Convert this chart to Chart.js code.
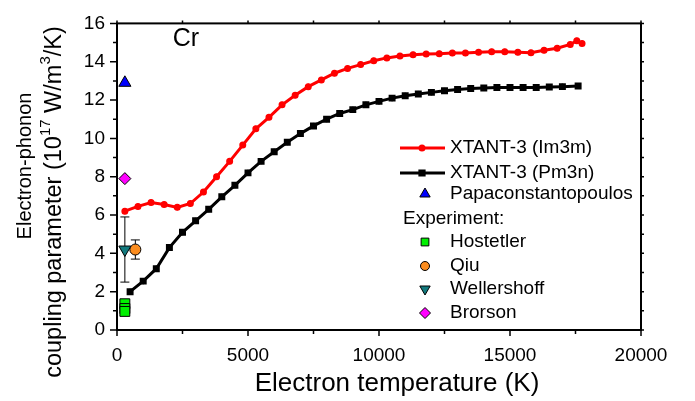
<!DOCTYPE html>
<html>
<head>
<meta charset="utf-8">
<script src="https://cdn.jsdelivr.net/npm/chart.js@4.4.0/dist/chart.umd.min.js"></script>
<style>
  html, body { margin: 0; padding: 0; background: #fff; }
  #wrap { width: 695px; height: 401px; }
</style>
</head>
<body>
<div id="wrap"><canvas id="chart" width="695" height="401"></canvas></div>
<script>
const FONT = "'Liberation Sans', Arial, sans-serif";

// XTANT-3, bcc Cr (Im3m)
const im3mTe = [300, 800, 1300, 1800, 2300, 2800, 3300, 3800, 4300, 4800, 5300, 5800, 6300, 6800, 7300, 7800, 8300, 8800, 9300, 9800,
  10300, 10800, 11300, 11800, 12300, 12800, 13300, 13800, 14300, 14800, 15300, 15800, 16300, 16800, 17300, 17550, 17750];
const im3mG = [6.2, 6.45, 6.65, 6.55, 6.4, 6.6, 7.2, 8.0, 8.8, 9.65, 10.5, 11.1, 11.75, 12.25, 12.7, 13.05, 13.4, 13.65, 13.85, 14.05,
  14.2, 14.3, 14.37, 14.4, 14.42, 14.45, 14.45, 14.5, 14.52, 14.52, 14.5, 14.47, 14.6, 14.7, 14.9, 15.1, 14.95];

// XTANT-3, A15 Cr (Pm3n)
const pm3nTe = [500, 1000, 1500, 2000, 2500, 3000, 3500, 4000, 4500, 5000, 5500, 6000, 6500, 7000, 7500, 8000, 8500, 9000, 9500, 10000,
  10500, 11000, 11500, 12000, 12500, 13000, 13500, 14000, 14500, 15000, 15500, 16000, 16500, 17000, 17600];
const pm3nG = [2.0, 2.55, 3.2, 4.3, 5.1, 5.7, 6.3, 6.95, 7.55, 8.2, 8.8, 9.3, 9.8, 10.25, 10.65, 11.0, 11.3, 11.5, 11.75, 11.93,
  12.1, 12.22, 12.32, 12.4, 12.48, 12.55, 12.6, 12.63, 12.65, 12.65, 12.65, 12.66, 12.68, 12.7, 12.73];

// single-temperature values
const papaTe = [300];
const papaG = [12.9];
const hostetlerTe = [300, 300, 300];
const hostetlerG = [1.37, 1.12, 0.97];
const qiuTe = [700];
const qiuG = [4.2];
const qiuLo = [3.7];
const qiuHi = [4.7];
const wellTe = [300];
const wellG = [4.2];
const wellLo = [2.5];
const wellHi = [5.9];
const brorsonTe = [300];
const brorsonG = [7.9];

const xTicks = [0, 5000, 10000, 15000, 20000];
const yTicks = [0, 2, 4, 6, 8, 10, 12, 14, 16];

const pts = (xs, ys) => xs.map((x, i) => ({ x, y: ys[i] }));

const RED = '#ff0000';
const BLUE = '#0000ff';
const GREEN = '#00f000';
const ORANGE = '#fb8c1e';
const TEAL = '#127a7e';
const MAGENTA = '#ff00ff';

function marker(label, xs, ys, color, style, radius, extra) {
  return Object.assign({
    label,
    data: pts(xs, ys),
    showLine: false,
    pointStyle: style,
    pointRadius: radius,
    pointBackgroundColor: color,
    pointBorderColor: '#000',
    pointBorderWidth: 1,
  }, extra || {});
}

// vertical error bars: experiment whiskers and the short bars on the simulated curves
const errorBars = {
  id: 'errorBars',
  beforeDatasetsDraw(chart) {
    const { ctx, scales: { y } } = chart;
    chart.data.datasets.forEach((ds, di) => {
      const meta = chart.getDatasetMeta(di);
      ctx.save();
      if (ds.errLo) {
        ctx.strokeStyle = '#000';
        ctx.lineWidth = 1;
        meta.data.forEach((p, i) => {
          const top = y.getPixelForValue(ds.errHi[i]);
          const bot = y.getPixelForValue(ds.errLo[i]);
          ctx.beginPath();
          ctx.moveTo(p.x, top); ctx.lineTo(p.x, bot);
          ctx.moveTo(p.x - 4.5, top); ctx.lineTo(p.x + 4.5, top);
          ctx.moveTo(p.x - 4.5, bot); ctx.lineTo(p.x + 4.5, bot);
          ctx.stroke();
        });
      }
      if (ds.tickBar) {
        ctx.strokeStyle = ds.borderColor;
        ctx.lineWidth = 1.5;
        meta.data.forEach(p => {
          ctx.beginPath();
          ctx.moveTo(p.x, p.y - ds.tickBar); ctx.lineTo(p.x, p.y + ds.tickBar);
          ctx.stroke();
        });
      }
      ctx.restore();
    });
  }
};

function richWidth(ctx, parts, size) {
  let w = 0;
  parts.forEach(p => {
    ctx.font = (p.sup ? Math.round(size * 0.62) : size) + 'px ' + FONT;
    w += ctx.measureText(p.t).width;
  });
  return w;
}

function drawRich(ctx, parts, cx, cy, size) {
  let x = cx - richWidth(ctx, parts, size) / 2;
  ctx.textAlign = 'left';
  ctx.textBaseline = 'middle';
  parts.forEach(p => {
    const s = p.sup ? Math.round(size * 0.62) : size;
    ctx.font = s + 'px ' + FONT;
    ctx.fillText(p.t, x, p.sup ? cy - size * 0.38 : cy);
    x += ctx.measureText(p.t).width;
  });
}

// axis box with outward ticks, titles, panel label and legend
const frame = {
  id: 'frame',
  afterDraw(chart) {
    const { ctx, chartArea: a, scales: { x, y } } = chart;
    ctx.save();
    ctx.strokeStyle = '#000';
    ctx.fillStyle = '#000';
    ctx.lineWidth = 2;
    ctx.strokeRect(a.left, a.top, a.right - a.left, a.bottom - a.top);

    ctx.lineWidth = 1.5;
    ctx.beginPath();
    xTicks.forEach((v, i) => {
      const px = x.getPixelForValue(v);
      ctx.moveTo(px, a.bottom); ctx.lineTo(px, a.bottom + 6);
      ctx.moveTo(px, a.top); ctx.lineTo(px, a.top - 3);
      if (i < xTicks.length - 1) {
        const mx = x.getPixelForValue((v + xTicks[i + 1]) / 2);
        ctx.moveTo(mx, a.bottom); ctx.lineTo(mx, a.bottom + 4);
        ctx.moveTo(mx, a.top); ctx.lineTo(mx, a.top - 3);
      }
    });
    yTicks.forEach((v, i) => {
      const py = y.getPixelForValue(v);
      ctx.moveTo(a.left, py); ctx.lineTo(a.left - 7, py);
      ctx.moveTo(a.right, py); ctx.lineTo(a.right + 3, py);
      if (i < yTicks.length - 1) {
        const my = y.getPixelForValue((v + yTicks[i + 1]) / 2);
        ctx.moveTo(a.left, my); ctx.lineTo(a.left - 4, my);
        ctx.moveTo(a.right, my); ctx.lineTo(a.right + 3, my);
      }
    });
    ctx.stroke();

    // axis titles
    ctx.textAlign = 'center';
    ctx.textBaseline = 'middle';
    ctx.font = '26px ' + FONT;
    ctx.fillText('Electron temperature (K)', 397, 384);

    ctx.save();
    ctx.translate(25, 166);
    ctx.rotate(-Math.PI / 2);
    drawRich(ctx, [{ t: 'Electron-phonon' }], 0, 0, 20);
    ctx.restore();
    ctx.save();
    ctx.translate(55, 202);
    ctx.rotate(-Math.PI / 2);
    drawRich(ctx, [{ t: 'coupling parameter (10' }, { t: '17', sup: true }, { t: ' W/m' }, { t: '3', sup: true }, { t: '/K)' }], 0, 0, 23.5);
    ctx.restore();

    ctx.textAlign = 'center';
    ctx.font = '25px ' + FONT;
    ctx.fillText('Cr', 186, 39);

    // legend
    const rows = [
      { y: 148, line: RED, style: 'circle', r: 2, text: 'XTANT-3 (Im3m)' },
      { y: 173, line: '#000', style: 'rect', r: 3, text: 'XTANT-3 (Pm3n)' },
      { y: 194, fill: BLUE, style: 'triangle', r: 6, text: 'Papaconstantopoulos' },
      { y: 219, head: 'Experiment:' },
      { y: 242, fill: GREEN, style: 'rect', r: 5.5, text: 'Hostetler' },
      { y: 266, fill: ORANGE, style: 'circle', r: 4.5, text: 'Qiu' },
      { y: 289, fill: TEAL, style: 'triangle', r: 6, rot: 180, text: 'Wellershoff' },
      { y: 313, fill: MAGENTA, style: 'rectRot', r: 5.5, text: 'Brorson' },
    ];
    ctx.font = '19px ' + FONT;
    ctx.textAlign = 'left';
    rows.forEach(r => {
      ctx.fillStyle = '#000';
      if (r.head) { ctx.fillText(r.head, 403, r.y); return; }
      if (r.line) {
        ctx.strokeStyle = r.line;
        ctx.lineWidth = 3;
        ctx.beginPath(); ctx.moveTo(400, r.y); ctx.lineTo(445, r.y); ctx.stroke();
        ctx.fillStyle = r.line; ctx.strokeStyle = r.line;
        Chart.helpers.drawPoint(ctx, { pointStyle: r.style, radius: r.r, rotation: 0, borderWidth: 1 }, 422, r.y);
      } else {
        ctx.fillStyle = r.fill; ctx.strokeStyle = '#000'; ctx.lineWidth = 1;
        Chart.helpers.drawPoint(ctx, { pointStyle: r.style, radius: r.r, rotation: r.rot || 0, borderWidth: 1 }, 425, r.y);
      }
      ctx.fillStyle = '#000';
      ctx.fillText(r.text, 450, r.y);
    });
    ctx.restore();
  }
};

new Chart(document.getElementById('chart'), {
  type: 'scatter',
  data: {
    datasets: [
      marker('Brorson', brorsonTe, brorsonG, MAGENTA, 'rectRot', 6),
      marker('Wellershoff', wellTe, wellG, TEAL, 'triangle', 7, { pointRotation: 180, errLo: wellLo, errHi: wellHi }),
      marker('Qiu', qiuTe, qiuG, ORANGE, 'circle', 5.5, { errLo: qiuLo, errHi: qiuHi }),
      marker('Hostetler', hostetlerTe, hostetlerG, GREEN, 'rect', 7),
      marker('Papaconstantopoulos', papaTe, papaG, BLUE, 'triangle', 7),
      {
        label: 'XTANT-3 (Pm3n)',
        data: pts(pm3nTe, pm3nG),
        showLine: true,
        borderColor: '#000',
        borderWidth: 3,
        pointStyle: 'rect',
        pointRadius: 2.8,
        pointBackgroundColor: '#000',
        pointBorderColor: '#000',
        tickBar: 3,
      },
      {
        label: 'XTANT-3 (Im3m)',
        data: pts(im3mTe, im3mG),
        showLine: true,
        borderColor: RED,
        borderWidth: 3,
        pointStyle: 'circle',
        pointRadius: 2,
        pointBackgroundColor: RED,
        pointBorderColor: RED,
        tickBar: 3,
      },
    ]
  },
  options: {
    responsive: false,
    animation: false,
    devicePixelRatio: 1,
    layout: { padding: { top: 15, right: 54, left: 0, bottom: 0 } },
    plugins: { legend: { display: false }, tooltip: { enabled: false } },
    scales: {
      x: {
        type: 'linear', min: 0, max: 20000,
        afterBuildTicks: s => { s.ticks = xTicks.map(v => ({ value: v })); },
        afterFit: s => { s.height = 71; },
        grid: { display: false, drawTicks: false },
        border: { display: false },
        ticks: { color: '#000', font: { family: FONT, size: 19 }, padding: 14, maxRotation: 0, autoSkip: false, callback: v => String(v) }
      },
      y: {
        type: 'linear', min: 0, max: 16,
        afterBuildTicks: s => { s.ticks = yTicks.map(v => ({ value: v })); },
        afterFit: s => { s.width = 117; },
        grid: { display: false, drawTicks: false },
        border: { display: false },
        ticks: { color: '#000', font: { family: FONT, size: 19 }, padding: 12, autoSkip: false, callback: v => String(v) }
      }
    }
  },
  plugins: [errorBars, frame]
});
</script>
</body>
</html>
